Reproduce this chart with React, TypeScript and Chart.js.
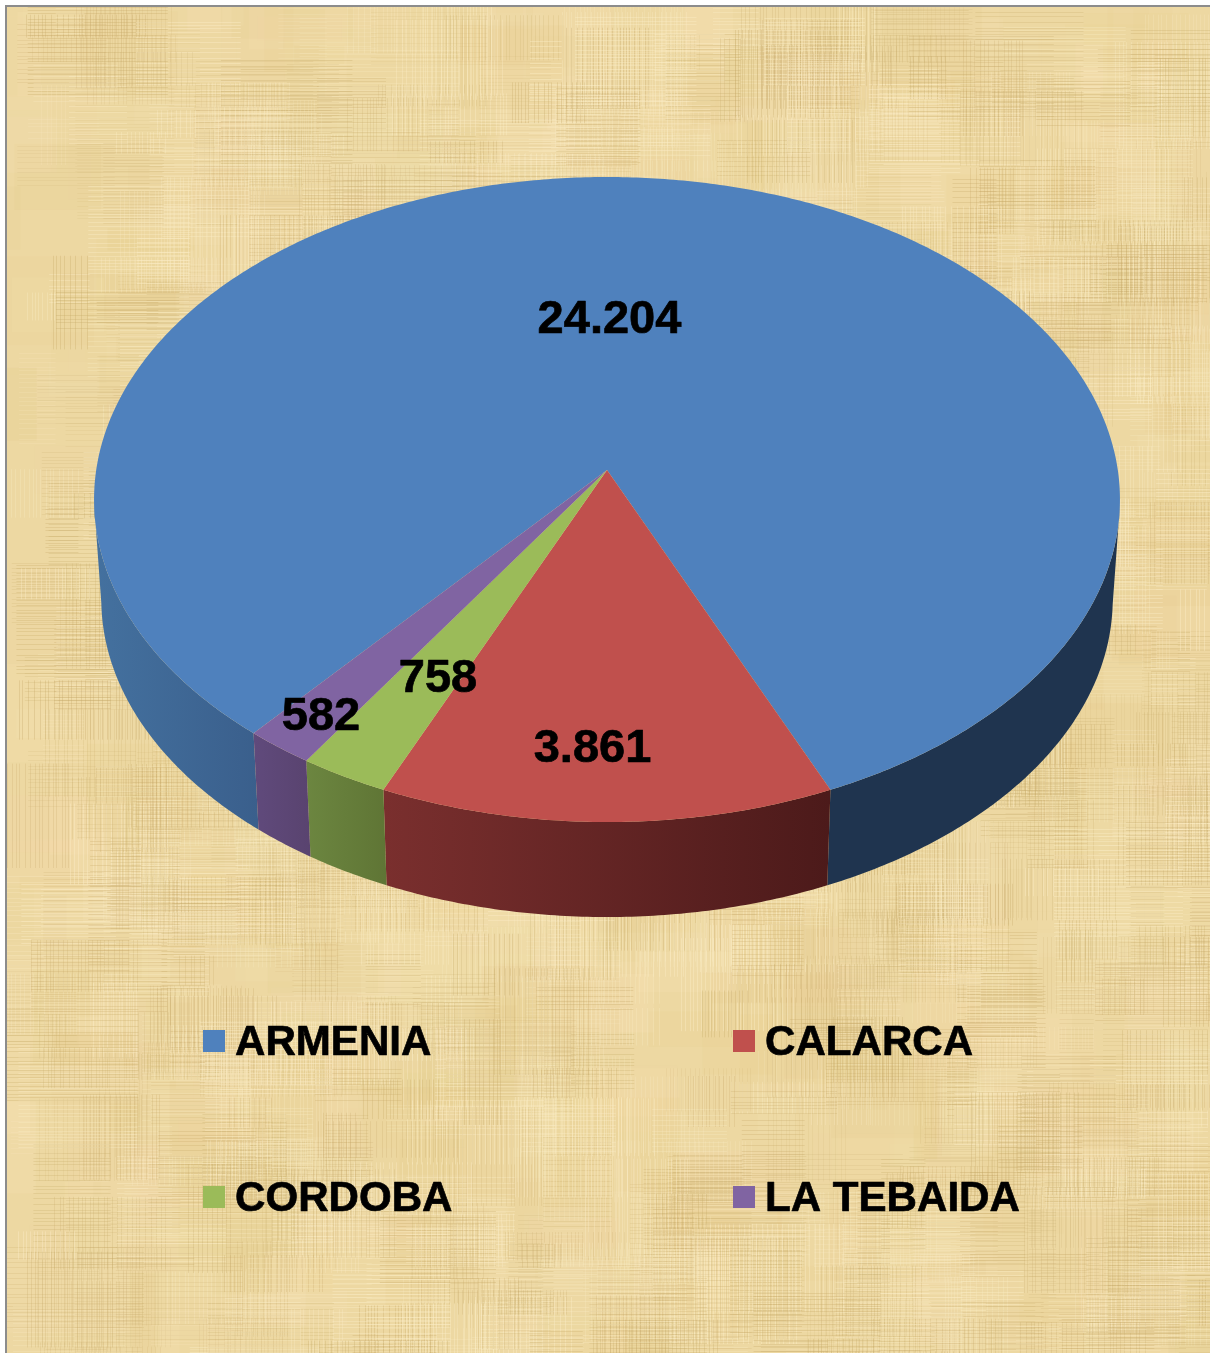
import React, { useEffect, useRef } from "react";
import { Chart, PieController, ArcElement } from "chart.js";

Chart.register(PieController, ArcElement);

const categories = ["ARMENIA", "CALARCA", "CORDOBA", "LA TEBAIDA"];
const values = [24204, 3861, 758, 582];
const topColors = ["#4F81BD", "#C0504D", "#9BBB59", "#8064A2"];
const wallShades = [
  ["#44719f", "#3a5f8c", "#1f344f", "#1f344f"],
  ["#7a2f2e", "#4c1a1a"],
  ["#6c8640", "#5f7535"],
  ["#604a7c", "#59436f"],
];
const FONT = '"Liberation Sans", Arial, sans-serif';

const WIDTH = 1210;
const HEIGHT = 1353;
const K = 0.0915;
const TOP_PLANE = { a: 510.8, b: 319.8, dy: 0 };
const BOTTOM_PLANE = { a: 503.6, b: 315.3, dy: 100 };

type Plane = { a: number; b: number; dy: number };

function project(el: any, angle: number, plane: Plane): [number, number] {
  const X = Math.cos(angle);
  const Y = Math.sin(angle);
  const w = 1 - K * Y;
  return [el.x + (plane.a * X) / w, el.y + plane.dy + (plane.b * Y) / w];
}

function rimAngles(start: number, end: number): number[] {
  const out: number[] = [];
  const n = Math.max(2, Math.ceil((end - start) / 0.01));
  for (let i = 0; i <= n; i++) out.push(start + ((end - start) * i) / n);
  return out;
}

function drawWalls(ctx: CanvasRenderingContext2D, arcs: any[]) {
  arcs.forEach((el, i) => {
    const runs: number[][] = [];
    let run: number[] = [];
    for (const angle of rimAngles(el.startAngle, el.endAngle)) {
      if (Math.sin(angle) > 0.1) {
        run.push(angle);
      } else if (run.length) {
        runs.push(run);
        run = [];
      }
    }
    if (run.length) runs.push(run);
    for (const r of runs) {
      if (r.length < 2) continue;
      const upper = r.map((a) => project(el, a, TOP_PLANE));
      const lower = r.map((a) => project(el, a, BOTTOM_PLANE));
      const xs = upper.concat(lower).map((p) => p[0]);
      const minX = Math.min(...xs);
      const maxX = Math.max(...xs);
      const shades = wallShades[i];
      const pair =
        shades.length === 2
          ? shades
          : (minX + maxX) / 2 < el.x
            ? shades.slice(0, 2)
            : shades.slice(2, 4);
      const g = ctx.createLinearGradient(minX, 0, maxX, 0);
      g.addColorStop(0, pair[0]);
      g.addColorStop(1, pair[1]);
      ctx.fillStyle = g;
      ctx.beginPath();
      upper.forEach((p, j) => (j ? ctx.lineTo(p[0], p[1]) : ctx.moveTo(p[0], p[1])));
      lower.reverse().forEach((p) => ctx.lineTo(p[0], p[1]));
      ctx.closePath();
      ctx.fill();
    }
  });
}

function drawTops(ctx: CanvasRenderingContext2D, arcs: any[]) {
  arcs.forEach((el, i) => {
    ctx.fillStyle = topColors[i];
    ctx.beginPath();
    ctx.moveTo(el.x, el.y);
    for (const a of rimAngles(el.startAngle, el.endAngle)) {
      const p = project(el, a, TOP_PLANE);
      ctx.lineTo(p[0], p[1]);
    }
    ctx.closePath();
    ctx.fill();
  });
}

let textureCache: HTMLCanvasElement | null = null;

function paperTexture(): HTMLCanvasElement {
  if (textureCache) return textureCache;
  const c = document.createElement("canvas");
  c.width = WIDTH;
  c.height = HEIGHT;
  const raw = document.createElement("canvas");
  raw.width = WIDTH;
  raw.height = HEIGHT;
  const t = raw.getContext("2d")!;
  let seed = 20240611;
  const rnd = () => {
    seed = (seed * 1664525 + 1013904223) >>> 0;
    return seed / 4294967296;
  };
  t.fillStyle = "#EDD8A2";
  t.fillRect(0, 0, WIDTH, HEIGHT);
  for (let i = 0; i < 700; i++) {
    const w = 14 + rnd() * 110;
    const h = 14 + rnd() * 90;
    const x = rnd() * WIDTH - 20;
    const y = rnd() * HEIGHT - 20;
    const kind = rnd();
    t.fillStyle =
      kind < 0.5
        ? `rgba(248,230,185,${0.06 + rnd() * 0.14})`
        : kind < 0.8
          ? `rgba(226,198,130,${0.05 + rnd() * 0.12})`
          : `rgba(241,214,165,${0.08 + rnd() * 0.14})`;
    t.fillRect(x, y, w, h);
  }
  for (let i = 0; i < 1100; i++) {
    const x0 = rnd() * WIDTH;
    const y0 = rnd() * HEIGHT;
    const w = 25 + rnd() * 120;
    const h = 20 + rnd() * 90;
    const dark = rnd() < 0.55;
    t.strokeStyle = dark
      ? `rgba(196,166,100,${0.1 + rnd() * 0.2})`
      : `rgba(252,238,200,${0.15 + rnd() * 0.25})`;
    t.lineWidth = 1;
    t.beginPath();
    if (rnd() < 0.5) {
      for (let y = Math.round(y0); y < y0 + h; y += 3 + Math.floor(rnd() * 4)) {
        t.moveTo(x0, y + 0.5);
        t.lineTo(x0 + w, y + 0.5);
      }
    } else {
      for (let x = Math.round(x0); x < x0 + w; x += 3 + Math.floor(rnd() * 4)) {
        t.moveTo(x + 0.5, y0);
        t.lineTo(x + 0.5, y0 + h);
      }
    }
    t.stroke();
  }
  const out = c.getContext("2d")!;
  out.filter = "blur(0.6px)";
  out.drawImage(raw, 0, 0);
  out.filter = "none";
  textureCache = c;
  return c;
}

const valueLabelPlacement = [
  { x: 609.5, y: 332.5 },
  { x: 592.5, y: 762 },
  { x: 438, y: 692 },
  { x: 321, y: 729.5 },
];
const legendPlacement = [
  { x: 203, y: 1030 },
  { x: 733, y: 1030 },
  { x: 203, y: 1186 },
  { x: 733, y: 1186 },
];

const formatValue = (v: number) => String(v).replace(/\B(?=(\d{3})+$)/g, ".");

const piePlugin = {
  id: "tiltedPie",
  beforeDraw(chart: any) {
    const ctx: CanvasRenderingContext2D = chart.ctx;
    ctx.save();
    ctx.clearRect(0, 0, WIDTH, HEIGHT);
    ctx.drawImage(paperTexture(), 0, 0);
    ctx.fillStyle = "#ffffff";
    ctx.fillRect(0, 0, WIDTH, 5);
    ctx.fillRect(0, 0, 5, HEIGHT);
    ctx.fillStyle = "#8c8c8c";
    ctx.fillRect(5, 5, WIDTH - 5, 2);
    ctx.fillRect(5, 5, 2, HEIGHT - 5);
    ctx.restore();
  },
  beforeDatasetsDraw(chart: any) {
    const ctx: CanvasRenderingContext2D = chart.ctx;
    const arcs = chart.getDatasetMeta(0).data;
    ctx.save();
    drawWalls(ctx, arcs);
    drawTops(ctx, arcs);
    ctx.restore();
    return false;
  },
  afterDraw(chart: any) {
    const ctx: CanvasRenderingContext2D = chart.ctx;
    const data: number[] = chart.data.datasets[0].data;
    const labels: string[] = chart.data.labels;
    ctx.save();
    ctx.fillStyle = "#000000";
    ctx.strokeStyle = "#000000";
    ctx.lineWidth = 0.7;
    ctx.lineJoin = "round";
    ctx.textBaseline = "alphabetic";
    ctx.textAlign = "center";
    ctx.font = `bold 47px ${FONT}`;
    data.forEach((v, i) => {
      const p = valueLabelPlacement[i];
      ctx.fillText(formatValue(v), p.x, p.y);
      ctx.strokeText(formatValue(v), p.x, p.y);
    });
    ctx.textAlign = "left";
    ctx.font = `bold 42.1px ${FONT}`;
    labels.forEach((label, i) => {
      const p = legendPlacement[i];
      ctx.fillStyle = topColors[i];
      ctx.fillRect(p.x, p.y, 22, 22);
      ctx.fillStyle = "#000000";
      ctx.fillText(label, p.x + 32, p.y + 25);
      ctx.strokeText(label, p.x + 32, p.y + 25);
    });
    ctx.restore();
  },
};

export default function App() {
  const ref = useRef<HTMLCanvasElement | null>(null);
  useEffect(() => {
    const chart = new Chart(ref.current!, {
      type: "pie",
      data: {
        labels: categories,
        datasets: [
          { data: values, backgroundColor: topColors, borderWidth: 0 },
        ],
      },
      options: {
        animation: false,
        responsive: false,
        rotation: 220.05,
        layout: { padding: { left: 94, right: 90, top: 0, bottom: 413 } },
        plugins: { legend: { display: false }, tooltip: { enabled: false } },
      },
      plugins: [piePlugin],
    } as any);
    return () => chart.destroy();
  }, []);
  return (
    <div style={{ position: "absolute", left: 0, top: 0, width: WIDTH, height: HEIGHT }}>
      <canvas ref={ref} width={WIDTH} height={HEIGHT} style={{ display: "block" }} />
    </div>
  );
}
